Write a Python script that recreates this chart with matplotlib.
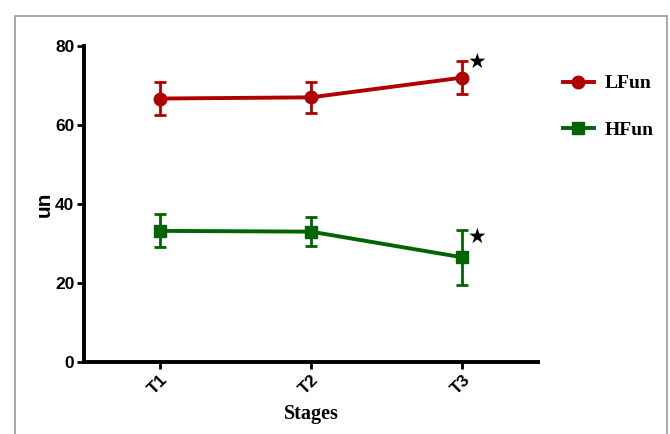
import numpy as np
import matplotlib.pyplot as plt
from matplotlib.patches import Rectangle
from matplotlib.lines import Line2D

# data
stages = ["T1", "T2", "T3"]
lfun = [66.7, 67.0, 72.0]
lfun_err = [4.1, 3.9, 4.1]
hfun = [33.2, 33.0, 26.5]
hfun_err = [4.2, 3.6, 6.9]
star_y = [76.0, 31.7]

red = "#B00000"
green = "#006400"

fig = plt.figure(figsize=(6.7, 4.34), dpi=100)
fig.patches.append(Rectangle((15/670, -0.1), 652/670, 1.1 - 16/434,
                             transform=fig.transFigure, fill=False,
                             edgecolor="#999999", lw=1.2))
ax = fig.add_axes([84/670, 1 - 362/434, 454/670, 316/434])

x = np.arange(len(stages))
ax.errorbar(x, lfun, yerr=lfun_err, color=red, marker="o", ms=9, lw=2.8,
            capsize=4, capthick=2, elinewidth=2)
ax.errorbar(x, hfun, yerr=hfun_err, color=green, marker="s", ms=9, lw=2.8,
            capsize=4, capthick=2, elinewidth=2)

# significance stars
for y in star_y:
    ax.text(2.1, y, "\u2605", fontsize=15, ha="center", va="center",
            family="DejaVu Sans")

ax.set_xlim(-0.5, 2.5)
ax.set_ylim(0, 80)
ax.set_yticks([0, 20, 40, 60, 80])
ax.set_xticks(x)
ax.set_xticklabels(stages, rotation=45, ha="right", rotation_mode="anchor",
                   fontsize=12.5, fontweight="bold", family="Liberation Sans")
for lab in ax.get_yticklabels():
    lab.set_fontsize(12.5)
    lab.set_fontweight("bold")
    lab.set_family("Liberation Sans")

for s in ["top", "right"]:
    ax.spines[s].set_visible(False)
for s in ["left", "bottom"]:
    ax.spines[s].set_linewidth(2.8)
ax.tick_params(axis="both", width=2, length=5, pad=2)

ax.set_ylabel("un", fontsize=15, fontweight="bold", family="Liberation Sans",
              labelpad=1)
ax.set_xlabel("Stages", fontsize=14.5, fontweight="bold",
              family="Liberation Serif", labelpad=5)

handles = [Line2D([], [], color=red, marker="o", ms=9, lw=2.8),
           Line2D([], [], color=green, marker="s", ms=9, lw=2.8)]
ax.legend(handles, ["LFun", "HFun"], loc="upper left",
          bbox_to_anchor=(553/670, 1 - 65/434),
          bbox_transform=fig.transFigure, frameon=False, handlelength=1.6,
          handletextpad=0.55, labelspacing=1.5, borderpad=0,
          prop={"family": "Liberation Serif", "weight": "bold", "size": 14})

fig.savefig("out.png", dpi=100)
